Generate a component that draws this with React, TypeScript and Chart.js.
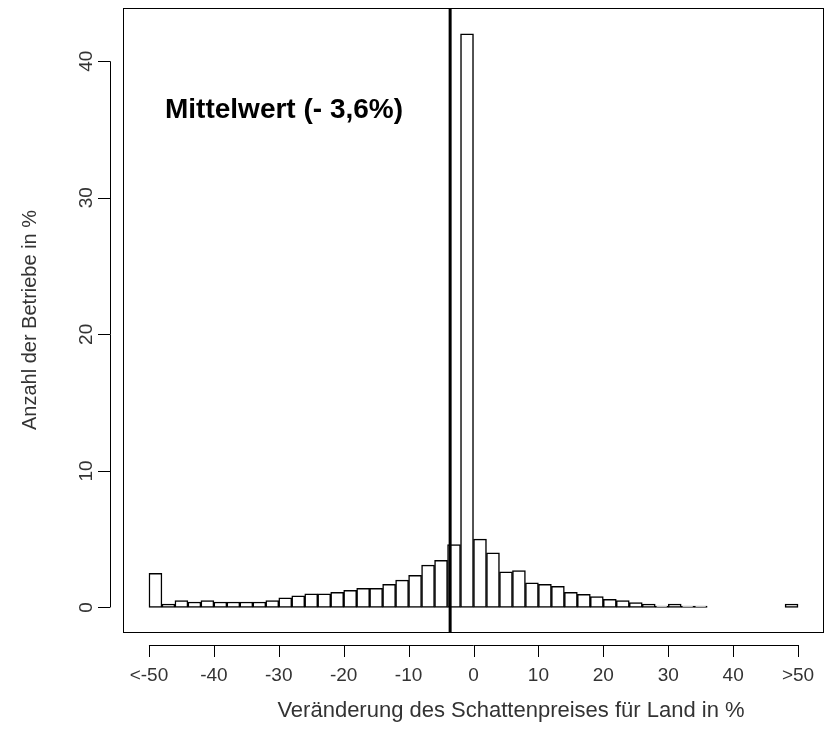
import React, { useEffect, useRef } from "react";
import { Chart, registerables } from "chart.js";
Chart.register(...registerables);

const binStarts = Array.from({ length: 50 }, (_, i) => -50 + 2 * i);
const values = [
  2.5, 0.25, 0.5, 0.4, 0.5, 0.4, 0.4, 0.4, 0.4, 0.5, 0.7, 0.85, 1.0, 1.0, 1.1, 1.25, 1.4, 1.4, 1.7, 2.0, 2.35, 3.1, 3.45, 4.6, 42,
  5.0, 4.0, 2.6, 2.7, 1.8, 1.7, 1.55, 1.1, 0.95, 0.8, 0.6, 0.5, 0.35, 0.25, 0.1, 0.25, 0.1, 0.1, 0, 0, 0, 0, 0, 0, 0.25,
];
const xTicks = [-50, -40, -30, -20, -10, 0, 10, 20, 30, 40, 50];
const xTickLabels = ["<-50", "-40", "-30", "-20", "-10", "0", "10", "20", "30", "40", ">50"];
const yTicks = [0, 10, 20, 30, 40];
const meanValue = -3.6;
const meanLabel = "Mittelwert (- 3,6%)";
const xTitle = "Veränderung des Schattenpreises für Land in %";
const yTitle = "Anzahl der Betriebe in %";

export default function App() {
  const ref = useRef<HTMLCanvasElement>(null);
  useEffect(() => {
    const font = "'Liberation Sans', Arial, sans-serif";
    const plugin = {
      id: "rstyle",
      afterDraw(chart: any) {
        const ctx = chart.ctx;
        const a = chart.chartArea;
        const xs = chart.scales.x, ys = chart.scales.y;
        ctx.save();
        ctx.strokeStyle = "#000";
        ctx.fillStyle = "#000";
        ctx.lineWidth = 1;
        ctx.strokeRect(a.left + 0.5, a.top + 0.5, a.right - a.left - 1, a.bottom - a.top);
        const mx = xs.getPixelForValue(meanValue);
        ctx.lineWidth = 3;
        ctx.beginPath(); ctx.moveTo(mx, a.top); ctx.lineTo(mx, a.bottom); ctx.stroke();
        ctx.lineWidth = 1;
        const xa = a.bottom + 13;
        ctx.beginPath();
        ctx.moveTo(xs.getPixelForValue(-50), xa + 0.5); ctx.lineTo(xs.getPixelForValue(50), xa + 0.5);
        xTicks.forEach((v) => { const p = Math.round(xs.getPixelForValue(v)) + 0.5; ctx.moveTo(p, xa); ctx.lineTo(p, xa + 12); });
        ctx.stroke();
        ctx.font = `19px ${font}`;
        ctx.fillStyle = "#333";
        ctx.textAlign = "center"; ctx.textBaseline = "middle";
        xTicks.forEach((v, i) => ctx.fillText(xTickLabels[i], xs.getPixelForValue(v), xa + 31));
        const ya = a.left - 13;
        ctx.beginPath();
        ctx.moveTo(ya + 0.5, ys.getPixelForValue(0)); ctx.lineTo(ya + 0.5, ys.getPixelForValue(40));
        yTicks.forEach((v) => { const p = Math.round(ys.getPixelForValue(v)) + 0.5; ctx.moveTo(ya, p); ctx.lineTo(ya - 12, p); });
        ctx.stroke();
        yTicks.forEach((v) => {
          ctx.save(); ctx.translate(ya - 23, ys.getPixelForValue(v)); ctx.rotate(-Math.PI / 2);
          ctx.fillText(String(v), 0, 0); ctx.restore();
        });
        ctx.font = `22px ${font}`;
        ctx.fillText(xTitle, 511, 711);
        ctx.font = `20px ${font}`;
        ctx.save(); ctx.translate(30, (a.top + a.bottom) / 2); ctx.rotate(-Math.PI / 2);
        ctx.fillText(yTitle, 0, 0); ctx.restore();
        ctx.fillStyle = "#000";
        ctx.font = `bold 28px ${font}`;
        ctx.textAlign = "left";
        ctx.fillText(meanLabel, 165, 110);
        ctx.restore();
      },
    };
    const chart = new Chart(ref.current!, {
      type: "bar",
      data: {
        datasets: [{
          data: binStarts.map((s, i) => ({ x: s + 1, y: values[i] })),
          backgroundColor: "#fff",
          borderColor: "#000",
          borderWidth: 1.5,
          barPercentage: 1,
          categoryPercentage: 1,
          borderSkipped: false,
        }],
      },
      options: {
        animation: false,
        responsive: false,
        layout: { padding: { left: 123, top: 8, right: 0, bottom: 119 } },
        plugins: { legend: { display: false }, tooltip: { enabled: false } },
        scales: {
          x: { type: "linear", min: -54, max: 54, offset: false, display: false },
          y: { min: -1.8, max: 43.9, display: false },
        },
      },
      plugins: [plugin],
    } as any);
    return () => chart.destroy();
  }, []);
  return (
    <div style={{ position: "absolute", left: 0, top: 0, background: "#fff" }}>
      <canvas ref={ref} width={824} height={751} style={{ width: 824, height: 751 }} />
    </div>
  );
}
